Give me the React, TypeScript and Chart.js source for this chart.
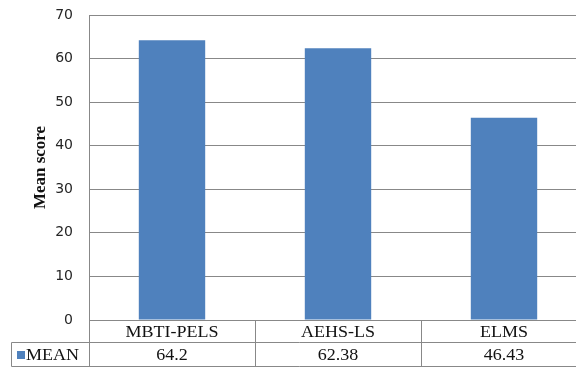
import React, { useEffect, useRef } from "react";
import { Chart, registerables } from "chart.js";

Chart.register(...registerables);

const categories = ["MBTI-PELS", "AEHS-LS", "ELMS"];
const meanValues = [64.2, 62.38, 46.43];
const valueLabels = ["64.2", "62.38", "46.43"];
const seriesName = "MEAN";
const yTicks = [0, 10, 20, 30, 40, 50, 60, 70];

const BAR = "#4F81BD";
const LINE = "#888888";
const SERIF = "'Liberation Serif', 'Times New Roman', serif";

const tablePlugin = {
  id: "dataTable",
  afterDraw(chart: any) {
    const { ctx, chartArea } = chart;
    const xs = chart.scales.x;
    const n = categories.length;
    const colW = (chartArea.right - chartArea.left) / n;
    const top = Math.round(chartArea.bottom) + 0.5;
    const mid = top + 22;
    const bot = top + 46;
    const legendLeft = 11.5;
    const right = chartArea.right;
    ctx.save();
    ctx.strokeStyle = LINE;
    ctx.lineWidth = 1;
    ctx.beginPath();
    const axisX = Math.round(chartArea.left) + 0.5;
    ctx.moveTo(axisX, top);
    ctx.lineTo(axisX, bot);
    for (let i = 1; i < n; i++) {
      const bx = Math.round(chartArea.left + colW * i) + 0.5;
      ctx.moveTo(bx, top);
      ctx.lineTo(bx, bot);
    }
    ctx.moveTo(legendLeft, mid);
    ctx.lineTo(right, mid);
    ctx.moveTo(legendLeft, bot);
    ctx.lineTo(right, bot);
    ctx.moveTo(legendLeft, mid);
    ctx.lineTo(legendLeft, bot);
    ctx.stroke();

    ctx.fillStyle = "#111";
    ctx.font = "17px " + SERIF;
    ctx.textBaseline = "middle";
    ctx.textAlign = "center";
    const drawStretched = (t: string, x: number, y: number, align: string) => {
      ctx.save();
      ctx.translate(x, y);
      ctx.scale(1.06, 1);
      ctx.textAlign = align;
      ctx.fillText(t, 0, 0);
      ctx.restore();
    };
    categories.forEach((c, i) => {
      const cx = xs.getPixelForValue(i);
      drawStretched(c, cx, (top + mid) / 2 + 1, "center");
      drawStretched(valueLabels[i], cx, (mid + bot) / 2 + 1, "center");
    });
    ctx.fillStyle = BAR;
    ctx.fillRect(17, Math.round((mid + bot) / 2) - 4, 8, 8);
    ctx.fillStyle = "#111";
    drawStretched(seriesName, 26, (mid + bot) / 2 + 1, "left");
    ctx.restore();
  },
};

export default function App() {
  const ref = useRef<HTMLCanvasElement>(null);
  useEffect(() => {
    if (!ref.current) return;
    const chart = new Chart(ref.current, {
      type: "bar",
      data: {
        labels: categories,
        datasets: [
          {
            label: seriesName,
            data: meanValues,
            backgroundColor: BAR,
            categoryPercentage: 1,
            barPercentage: 0.4,
          },
        ],
      },
      options: {
        responsive: false,
        animation: false,
        devicePixelRatio: 1,
        layout: { padding: { top: 15, bottom: 49, right: 1, left: 0 } },
        plugins: { legend: { display: false }, tooltip: { enabled: false } },
        scales: {
          x: { display: false },
          y: {
            min: 0,
            max: 70,
            afterBuildTicks: (s: any) => {
              s.ticks = yTicks.map((v) => ({ value: v }));
            },
            afterFit: (s: any) => {
              s.width = 89;
              s.paddingTop = 0;
              s.paddingBottom = 0;
            },
            ticks: {
              padding: 16,
              color: "#262626",
              font: { family: "'DejaVu Sans', sans-serif", size: 14 },
            },
            grid: { color: LINE, lineWidth: 1, drawTicks: false },
            border: { color: LINE, width: 1 },
            title: {
              display: true,
              text: "Mean score",
              color: "#111",
              font: { family: SERIF, size: 17, weight: "bold" },
              padding: { top: 30, bottom: 0 },
            },
          },
        },
      },
      plugins: [tablePlugin],
    });
    return () => chart.destroy();
  }, []);
  return (
    <div
      style={{
        position: "fixed",
        left: 0,
        top: 0,
        width: 576,
        height: 369,
        overflow: "hidden",
        background: "#fff",
      }}
    >
      <canvas ref={ref} width={588} height={369} style={{ display: "block" }} />
    </div>
  );
}
